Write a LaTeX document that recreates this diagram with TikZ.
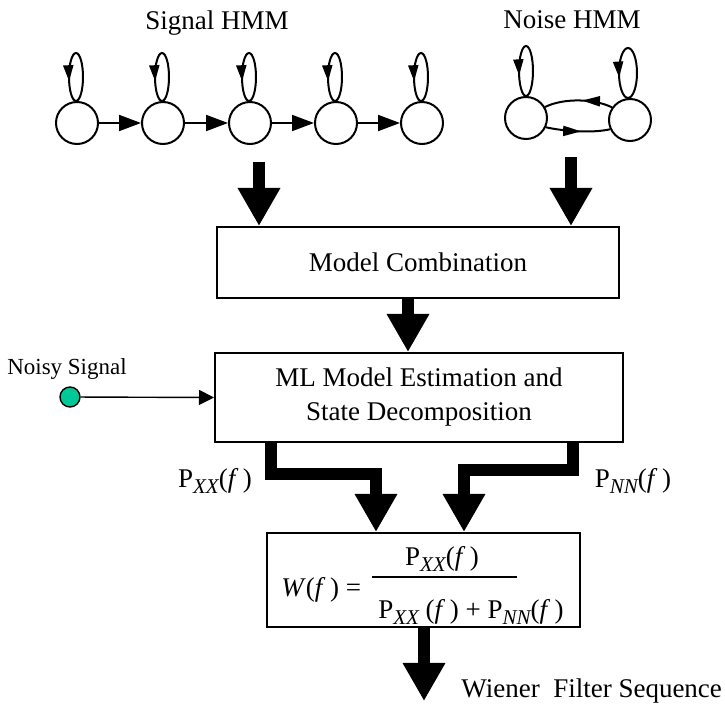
\documentclass[tikz,border=0pt]{standalone}
\usepackage{fontspec}
\setmainfont{Liberation Serif}
\usetikzlibrary{arrows.meta,decorations.markings,calc}
\newcommand\Psub[1]{P\raisebox{-0.45ex}{\fontsize{10.5}{10.5}\selectfont\itshape #1}}
\newcommand\fpar{(\textit{f}\,)}
\begin{document}
\begin{tikzpicture}[x=0.5pt,y=-0.5pt,
  every node/.style={font=\fontsize{13.5}{17}\selectfont},
  st/.style={circle, draw, line width=1pt, minimum size=21pt, inner sep=0pt},
  box/.style={draw, line width=1pt, rectangle, inner sep=0pt, align=center},
  bigarrow/.style={line width=6pt, line join=miter, -{Triangle[width=20pt,length=19pt]}},
  hmmarrow/.style={line width=1pt, -{Triangle[width=8pt,length=11pt]}},
  loopdown/.style={line width=1pt, postaction={decorate},
    decoration={markings, mark=at position 0.46 with {\arrowreversed{Triangle[width=5pt,length=8pt]}}}},
  arcleft/.style={line width=1pt, postaction={decorate},
    decoration={markings, mark=at position 0.55 with {\arrowreversed{Triangle[width=5pt,length=9pt]}}}},
  arcright/.style={line width=1pt, postaction={decorate},
    decoration={markings, mark=at position 0.55 with {\arrow{Triangle[width=5pt,length=9pt]}}}},
  lbl/.style={inner sep=0pt}
]
\useasboundingbox (0,0) rectangle (725,706);

% titles
\node[lbl] (sigtitle) at (217,23) {Signal HMM};
\node[lbl] (noitile) at (572,20) {Noise HMM};

% signal HMM
\foreach \i/\x in {1/77,2/163,3/250,4/336,5/422} {
  \node[st] (s\i) at (\x,123) {};
  \draw[loopdown] ($(s\i.north)+(-1,-24)$) ellipse [x radius=7, y radius=24];
}
\foreach \a/\b in {1/2,2/3,3/4,4/5} {
  \draw[hmmarrow] (s\a) -- (s\b);
}

% noise HMM
\node[st] (n1) at (526,118) {};
\node[st] (n2) at (630,120) {};
\draw[loopdown] ($(n1.north)+(0,-25)$) ellipse [x radius=7, y radius=25];
\draw[loopdown] ($(n2.north)+(-2,-25)$) ellipse [x radius=9, y radius=25];
\draw[arcleft] (n1.30) .. controls +(18,-9) and +(-18,-9) .. (n2.145);
\draw[arcright] (n1.-25) .. controls +(18,4) and +(-18,4) .. (n2.-155);

% boxes
\node[box, minimum width=201pt, minimum height=35.5pt] (mc) at (418,262.5) {Model Combination};
\node[box, minimum width=204pt, minimum height=44.5pt] (ml) at (419,397.5)
  {ML Model Estimation and\\State Decomposition};
\node[box, minimum width=156.5pt, minimum height=47pt] (fb) at (423.5,580) {};

% thick arrows from HMMs
\coordinate (sa) at (259,162);
\coordinate (na) at (571,157);
\draw[bigarrow] (sa) -- (mc.north -| sa);
\draw[bigarrow] (na) -- (mc.north -| na);
\coordinate (ma) at (408,0);
\draw[bigarrow] (mc.south -| ma) -- (ml.north -| ma);

% noisy signal input
\node[circle, draw, line width=0.7pt, fill={rgb,255:red,0;green,200;blue,150}, minimum size=10pt, inner sep=0pt] (dot) at (70,397) {};
\node[lbl, font=\fontsize{11.5}{13}\selectfont] (noisy) at (67,369) {Noisy Signal};
\draw[line width=0.7pt, -{Triangle[width=7.5pt,length=7.5pt]}] (dot) -- (ml.west);

% L-shaped arrows
\coordinate (l1) at (271,474);
\coordinate (l2) at (376,474);
\draw[bigarrow] (ml.south -| l1) -- (l1) -- (l2) -- (fb.north -| l2);
\coordinate (r1) at (573,470);
\coordinate (r2) at (464,470);
\draw[bigarrow] (ml.south -| r1) -- (r1) -- (r2) -- (fb.north -| r2);
\node[lbl] (pxx) at (215,481) {\Psub{XX}\fpar};
\node[lbl] (pnn) at (633,481) {\Psub{NN}\fpar};

% formula
\node[lbl, anchor=west] (wf) at (281,590) {\textit{W}\fpar\ =};
\coordinate (fl) at (372,577);
\coordinate (fr) at (517,577);
\draw[line width=1pt] (fl) -- (fr);
\node[lbl] (num) at (442,559) {\Psub{XX}\fpar};
\node[lbl] (den) at (471,612) {\Psub{XX} \fpar\ + \Psub{NN}\fpar};

% output
\coordinate (wend) at (424,701);
\draw[bigarrow] (fb.south -| wend) -- (wend);
\node[lbl, anchor=west] (wiener) at (461,691) {Wiener\ \ Filter Sequence};
\end{tikzpicture}
\end{document}
